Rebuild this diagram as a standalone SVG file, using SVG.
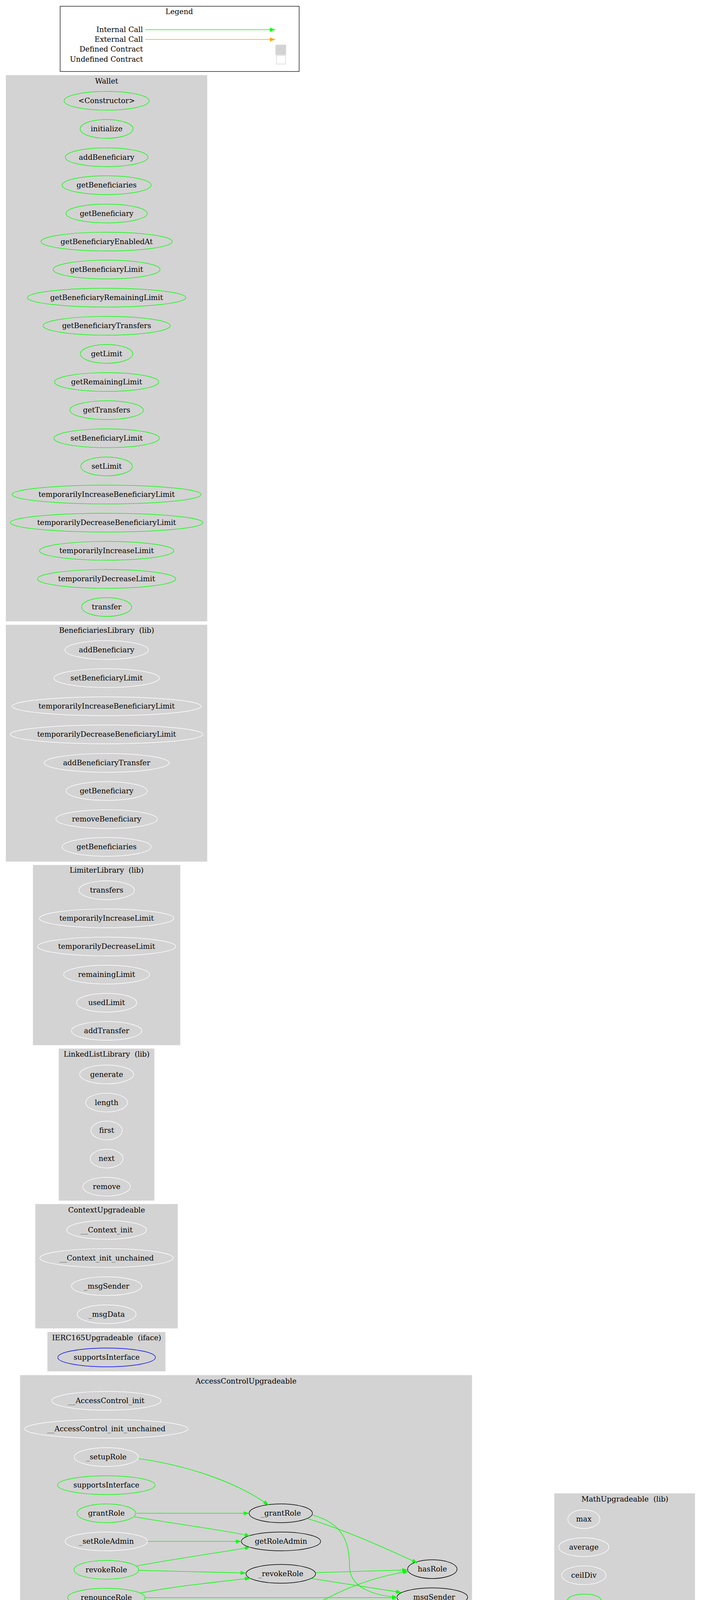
<svg xmlns="http://www.w3.org/2000/svg" width="1795" height="6413" viewBox="0 0 1795 6413">
<style>
text{font-family:"DejaVu Serif","Liberation Serif",serif;font-size:18.67px;text-anchor:middle;fill:#000;white-space:pre}
.cl{fill:#d3d3d3;stroke:#d3d3d3;stroke-width:1.3}
.n{fill:none;stroke-width:1.4}
.g{stroke:#00ff00}.w{stroke:#ffffff}.k{stroke:#000000}.b{stroke:#0000ff}.y{stroke:#ffff00}
.eg{fill:none;stroke:#00ff00;stroke-width:1.6;marker-end:url(#ag)}
.eo{fill:none;stroke:#ffa500;stroke-width:1.4;marker-end:url(#ao)}
</style>
<defs>
<marker id="ag" viewBox="0 0 14 10" refX="14" refY="5" markerWidth="14" markerHeight="10" markerUnits="userSpaceOnUse" orient="auto"><path d="M0,0 L14,5 L0,10 z" fill="#00ff00"/></marker>
<marker id="ao" viewBox="0 0 14 10" refX="14" refY="5" markerWidth="14" markerHeight="10" markerUnits="userSpaceOnUse" orient="auto"><path d="M0,0 L14,5 L0,10 z" fill="#ffa500"/></marker>
</defs>
<rect width="1795" height="6413" fill="#ffffff"/>
<g id="legend">
<rect x="154" y="16" width="612" height="167" fill="#fff" stroke="#000" stroke-width="1.3"/>
<text x="459" y="36">Legend</text>
<text x="366" y="82" style="text-anchor:end">Internal Call</text>
<text x="366" y="107" style="text-anchor:end">External Call</text>
<text x="366" y="132" style="text-anchor:end">Defined Contract</text>
<text x="366" y="158" style="text-anchor:end">Undefined Contract</text>
<path class="eg" d="M372,76 L705,76"/>
<path class="eo" d="M372,101 L705,101"/>
<rect x="706" y="115" width="26" height="25" fill="#d3d3d3" stroke="#d3d3d3"/>
<rect x="708" y="142" width="23" height="22" fill="#fff" stroke="#d3d3d3" stroke-width="1.3"/>
</g>
<g id="clusters">
<rect class="cl" x="15.6" y="193" width="514.4" height="1397"/><text x="273" y="214">Wallet</text>
<rect class="cl" x="15.6" y="1600" width="514.4" height="605"/><text x="273" y="1620">BeneficiariesLibrary  (lib)</text>
<rect class="cl" x="85" y="2215" width="376" height="460"/><text x="273" y="2234">LimiterLibrary  (lib)</text>
<rect class="cl" x="151" y="2685" width="243.6" height="388"/><text x="273" y="2705">LinkedListLibrary  (lib)</text>
<rect class="cl" x="91" y="3083" width="363.5" height="317"/><text x="273" y="3104">ContextUpgradeable</text>
<rect class="cl" x="122" y="3410.6" width="301" height="99.4"/><text x="273" y="3431">IERC165Upgradeable  (iface)</text>
<rect class="cl" x="52" y="3521" width="1156" height="676.7"/><text x="630" y="3542">AccessControlUpgradeable</text>
<rect class="cl" x="93.4" y="4207" width="358.6" height="389"/><text x="272.5" y="4228">IAccessControlUpgradeable  (iface)</text>
<rect class="cl" x="163.8" y="4606" width="217.7" height="461"/><text x="272.5" y="4627">IERC20  (iface)</text>
<rect class="cl" x="975" y="4207.6" width="265" height="316.4"/><text x="1107" y="4228">StringsUpgradeable  (lib)</text>
<rect class="cl" x="1420" y="3823.7" width="359" height="628.3"/><text x="1600" y="3844">MathUpgradeable  (lib)</text>
<rect class="cl" x="1340.6" y="4462.5" width="309.8" height="316.5"/><text x="1496" y="4483">SignedMathUpgradeable  (lib)</text>
<rect class="cl" x="172" y="5076.6" width="1413.6" height="387.1"/><text x="879" y="5098">AddressUpgradeable  (lib)</text>
<rect x="1007" y="5473.6" width="199.8" height="174.1" fill="#fff" stroke="#d3d3d3" stroke-width="1.5"/><text x="1107" y="5494">target</text>
<rect class="cl" x="947.4" y="5658" width="619.6" height="461"/><text x="1257.6" y="5679">Initializable</text>
<rect class="cl" x="922.4" y="6128.7" width="368.9" height="269"/><text x="1106.6" y="6150">ERC165Upgradeable</text>
</g>
<g id="Wallet">
<g id="w1"><ellipse class="n g" cx="273" cy="258" rx="109" ry="24"/><text x="273" y="264">&lt;Constructor&gt;</text></g>
<g id="w2"><ellipse class="n g" cx="273" cy="330" rx="67.7" ry="24"/><text x="273" y="336">initialize</text></g>
<g id="w3"><ellipse class="n g" cx="273" cy="402.5" rx="106" ry="24"/><text x="273" y="408.5">addBeneficiary</text></g>
<g id="w4"><ellipse class="n g" cx="273" cy="474" rx="114" ry="24"/><text x="273" y="480">getBeneficiaries</text></g>
<g id="w5"><ellipse class="n g" cx="273" cy="546.5" rx="104" ry="24"/><text x="273" y="552.5">getBeneficiary</text></g>
<g id="w6"><ellipse class="n g" cx="273" cy="618.5" rx="168" ry="24"/><text x="273" y="624.5">getBeneficiaryEnabledAt</text></g>
<g id="w7"><ellipse class="n g" cx="273" cy="690" rx="137" ry="24"/><text x="273" y="696">getBeneficiaryLimit</text></g>
<g id="w8"><ellipse class="n g" cx="273" cy="762" rx="203" ry="24"/><text x="273" y="768">getBeneficiaryRemainingLimit</text></g>
<g id="w9"><ellipse class="n g" cx="273" cy="834" rx="163" ry="24"/><text x="273" y="840">getBeneficiaryTransfers</text></g>
<g id="w10"><ellipse class="n g" cx="273" cy="906" rx="67" ry="24"/><text x="273" y="912">getLimit</text></g>
<g id="w11"><ellipse class="n g" cx="273" cy="978" rx="133.5" ry="24"/><text x="273" y="984">getRemainingLimit</text></g>
<g id="w12"><ellipse class="n g" cx="273" cy="1050" rx="94" ry="24"/><text x="273" y="1056">getTransfers</text></g>
<g id="w13"><ellipse class="n g" cx="273" cy="1122" rx="135" ry="24"/><text x="273" y="1128">setBeneficiaryLimit</text></g>
<g id="w14"><ellipse class="n g" cx="273" cy="1194" rx="66" ry="24"/><text x="273" y="1200">setLimit</text></g>
<g id="w15"><ellipse class="n g" cx="273" cy="1266" rx="242" ry="24"/><text x="273" y="1272">temporarilyIncreaseBeneficiaryLimit</text></g>
<g id="w16"><ellipse class="n g" cx="273" cy="1338" rx="246.5" ry="24"/><text x="273" y="1344">temporarilyDecreaseBeneficiaryLimit</text></g>
<g id="w17"><ellipse class="n g" cx="273" cy="1410" rx="172" ry="24"/><text x="273" y="1416">temporarilyIncreaseLimit</text></g>
<g id="w18"><ellipse class="n g" cx="273" cy="1482" rx="177" ry="24"/><text x="273" y="1488">temporarilyDecreaseLimit</text></g>
<g id="w19"><ellipse class="n g" cx="273" cy="1554" rx="64" ry="24"/><text x="273" y="1560">transfer</text></g>
</g>
<g id="BeneficiariesLibrary">
<g id="b1"><ellipse class="n w" cx="273" cy="1664" rx="106.7" ry="24"/><text x="273" y="1670">addBeneficiary</text></g>
<g id="b2"><ellipse class="n w" cx="273" cy="1736" rx="135" ry="24"/><text x="273" y="1742">setBeneficiaryLimit</text></g>
<g id="b3"><ellipse class="n w" cx="273" cy="1808" rx="242" ry="24"/><text x="273" y="1814">temporarilyIncreaseBeneficiaryLimit</text></g>
<g id="b4"><ellipse class="n w" cx="273" cy="1880" rx="246.5" ry="24"/><text x="273" y="1886">temporarilyDecreaseBeneficiaryLimit</text></g>
<g id="b5"><ellipse class="n w" cx="273" cy="1953" rx="160" ry="24"/><text x="273" y="1959">addBeneficiaryTransfer</text></g>
<g id="b6"><ellipse class="n w" cx="273" cy="2025" rx="104" ry="24"/><text x="273" y="2031">getBeneficiary</text></g>
<g id="b7"><ellipse class="n w" cx="273" cy="2097" rx="130" ry="24"/><text x="273" y="2103">removeBeneficiary</text></g>
<g id="b8"><ellipse class="n w" cx="273" cy="2168" rx="114" ry="24"/><text x="273" y="2174">getBeneficiaries</text></g>
</g>
<g id="LimiterLibrary">
<g id="l1"><ellipse class="n w" cx="273" cy="2279" rx="71" ry="24"/><text x="273" y="2285">transfers</text></g>
<g id="l2"><ellipse class="n w" cx="273" cy="2351" rx="172" ry="24"/><text x="273" y="2357">temporarilyIncreaseLimit</text></g>
<g id="l3"><ellipse class="n w" cx="273" cy="2423" rx="177" ry="24"/><text x="273" y="2429">temporarilyDecreaseLimit</text></g>
<g id="l4"><ellipse class="n w" cx="273" cy="2495" rx="110" ry="24"/><text x="273" y="2501">remainingLimit</text></g>
<g id="l5"><ellipse class="n w" cx="273" cy="2567" rx="77" ry="24"/><text x="273" y="2573">usedLimit</text></g>
<g id="l6"><ellipse class="n w" cx="273" cy="2639" rx="90" ry="24"/><text x="273" y="2645">addTransfer</text></g>
</g>
<g id="LinkedListLibrary">
<g id="ll1"><ellipse class="n w" cx="273" cy="2750.5" rx="69" ry="24"/><text x="273" y="2756.5">generate</text></g>
<g id="ll2"><ellipse class="n w" cx="273" cy="2822.6" rx="53.6" ry="24"/><text x="273" y="2828.6">length</text></g>
<g id="ll3"><ellipse class="n w" cx="273" cy="2894" rx="40" ry="24"/><text x="273" y="2900">first</text></g>
<g id="ll4"><ellipse class="n w" cx="273" cy="2966" rx="42" ry="24"/><text x="273" y="2972">next</text></g>
<g id="ll5"><ellipse class="n w" cx="273" cy="3038" rx="60.7" ry="24"/><text x="273" y="3044">remove</text></g>
</g>
<g id="ContextUpgradeable">
<g id="c1"><ellipse class="n w" cx="273" cy="3148.5" rx="102" ry="24"/><text x="273" y="3154.5">__Context_init</text></g>
<g id="c2"><ellipse class="n w" cx="273" cy="3220.5" rx="171" ry="24"/><text x="273" y="3226.5">__Context_init_unchained</text></g>
<g id="c3"><ellipse class="n w" cx="273" cy="3292.5" rx="90" ry="24"/><text x="273" y="3298.5">_msgSender</text></g>
<g id="c4"><ellipse class="n w" cx="273" cy="3364.5" rx="75.5" ry="24"/><text x="273" y="3370.5">_msgData</text></g>
</g>
<g id="IERC165Upgradeable">
<g id="i1"><ellipse class="n b" cx="273" cy="3475" rx="125" ry="24"/><text x="273" y="3481">supportsInterface</text></g>
</g>
<g id="AccessControlUpgradeable">
<g id="a1"><ellipse class="n w" cx="272.3" cy="3586" rx="140" ry="24"/><text x="272.3" y="3592">__AccessControl_init</text></g>
<g id="a2"><ellipse class="n w" cx="272.3" cy="3658" rx="209" ry="24"/><text x="272.3" y="3664">__AccessControl_init_unchained</text></g>
<g id="a3"><ellipse class="n w" cx="272.3" cy="3730" rx="82" ry="24"/><text x="272.3" y="3736">_setupRole</text></g>
<g id="a4"><ellipse class="n g" cx="272.3" cy="3802" rx="125" ry="24"/><text x="272.3" y="3808">supportsInterface</text></g>
<g id="a5"><ellipse class="n g" cx="272.3" cy="3874" rx="75" ry="24"/><text x="272.3" y="3880">grantRole</text></g>
<g id="a6"><ellipse class="n w" cx="272.3" cy="3946" rx="105.5" ry="24"/><text x="272.3" y="3952">_setRoleAdmin</text></g>
<g id="a7"><ellipse class="n g" cx="272.3" cy="4018.7" rx="83" ry="24"/><text x="272.3" y="4024.7">revokeRole</text></g>
<g id="a8"><ellipse class="n g" cx="272.3" cy="4090" rx="99" ry="24"/><text x="272.3" y="4096">renounceRole</text></g>
<g id="a9"><ellipse class="n y" cx="272.3" cy="4162" rx="68" ry="24"/><text x="272.3" y="4168">onlyRole</text></g>
<g id="a10"><ellipse class="n k" cx="719" cy="3874" rx="81" ry="24"/><text x="719" y="3880">_grantRole</text></g>
<g id="a11"><ellipse class="n k" cx="719.5" cy="3946" rx="101.5" ry="24"/><text x="719.5" y="3952">getRoleAdmin</text></g>
<g id="a12"><ellipse class="n k" cx="719" cy="4029" rx="89" ry="24"/><text x="719" y="4035">_revokeRole</text></g>
<g id="a13"><ellipse class="n k" cx="719" cy="4162" rx="82.5" ry="24"/><text x="719" y="4168">_checkRole</text></g>
<g id="a14"><ellipse class="n k" cx="1107" cy="4017" rx="63.3" ry="24"/><text x="1107" y="4023">hasRole</text></g>
<g id="a15"><ellipse class="n k" cx="1107" cy="4089" rx="90.5" ry="24"/><text x="1107" y="4095">_msgSender</text></g>
</g>
<g id="IAccessControlUpgradeable">
<g id="ia1"><ellipse class="n b" cx="272.5" cy="4272.7" rx="63" ry="24"/><text x="272.5" y="4278.7">hasRole</text></g>
<g id="ia2"><ellipse class="n b" cx="272.5" cy="4345" rx="101.4" ry="24"/><text x="272.5" y="4351">getRoleAdmin</text></g>
<g id="ia3"><ellipse class="n b" cx="272.5" cy="4417" rx="75" ry="24"/><text x="272.5" y="4423">grantRole</text></g>
<g id="ia4"><ellipse class="n b" cx="272.5" cy="4488.4" rx="83" ry="24"/><text x="272.5" y="4494.4">revokeRole</text></g>
<g id="ia5"><ellipse class="n b" cx="272.5" cy="4560.7" rx="99" ry="24"/><text x="272.5" y="4566.7">renounceRole</text></g>
</g>
<g id="IERC20">
<g id="e1"><ellipse class="n b" cx="272.5" cy="4671" rx="85.7" ry="24"/><text x="272.5" y="4677">totalSupply</text></g>
<g id="e2"><ellipse class="n b" cx="272.5" cy="4743" rx="76.7" ry="24"/><text x="272.5" y="4749">balanceOf</text></g>
<g id="e3"><ellipse class="n b" cx="272.5" cy="4815" rx="64" ry="24"/><text x="272.5" y="4821">transfer</text></g>
<g id="e4"><ellipse class="n b" cx="272.5" cy="4887.5" rx="75.6" ry="24"/><text x="272.5" y="4893.5">allowance</text></g>
<g id="e5"><ellipse class="n b" cx="272.5" cy="4959" rx="64.3" ry="24"/><text x="272.5" y="4965">approve</text></g>
<g id="e6"><ellipse class="n b" cx="272.5" cy="5031.7" rx="98" ry="24"/><text x="272.5" y="5037.7">transferFrom</text></g>
</g>
<g id="StringsUpgradeable">
<g id="s1"><ellipse class="n k" cx="1106" cy="4321" rx="90" ry="24"/><text x="1106" y="4327">toHexString</text></g>
<g id="s2"><ellipse class="n w" cx="1106" cy="4417" rx="65.5" ry="24"/><text x="1106" y="4423">toString</text></g>
<g id="s3"><ellipse class="n w" cx="1106" cy="4489" rx="48.5" ry="24"/><text x="1106" y="4495">equal</text></g>
</g>
<g id="MathUpgradeable">
<g id="m1"><ellipse class="n w" cx="1495" cy="3889" rx="41" ry="24"/><text x="1495" y="3895">max</text></g>
<g id="m2"><ellipse class="n w" cx="1495" cy="3960.7" rx="64.3" ry="24"/><text x="1495" y="3966.7">average</text></g>
<g id="m3"><ellipse class="n w" cx="1495" cy="4032.6" rx="56.7" ry="24"/><text x="1495" y="4038.6">ceilDiv</text></g>
<g id="m4"><ellipse class="n k" cx="1495" cy="4128.6" rx="59.4" ry="24"/><text x="1495" y="4134.6">mulDiv</text></g>
<g id="m5"><ellipse class="n w" cx="1495" cy="4225" rx="39.5" ry="24"/><text x="1495" y="4231">sqrt</text></g>
<g id="m6"><ellipse class="n k" cx="1495" cy="4321" rx="56.7" ry="24"/><text x="1495" y="4327">log256</text></g>
<g id="m7"><ellipse class="n k" cx="1495" cy="4417" rx="48.5" ry="24"/><text x="1495" y="4423">log10</text></g>
<g id="m8"><ellipse class="n k" cx="1727" cy="4189" rx="41" ry="24"/><text x="1727" y="4195">log2</text></g>
<g id="m9"><ellipse class="n k" cx="1727" cy="4261" rx="38.4" ry="24"/><text x="1727" y="4267">min</text></g>
</g>
<g id="SignedMathUpgradeable">
<g id="sm1"><ellipse class="n w" cx="1496" cy="4527.7" rx="40.7" ry="24"/><text x="1496" y="4533.7">max</text></g>
<g id="sm2"><ellipse class="n w" cx="1496" cy="4599.5" rx="38.2" ry="24"/><text x="1496" y="4605.5">min</text></g>
<g id="sm3"><ellipse class="n w" cx="1496" cy="4671" rx="64.4" ry="24"/><text x="1496" y="4677">average</text></g>
<g id="sm4"><ellipse class="n k" cx="1496" cy="4743.8" rx="35.8" ry="24"/><text x="1496" y="4749.8">abs</text></g>
</g>
<g id="AddressUpgradeable">
<g id="ad1"><ellipse class="n w" cx="272.4" cy="5237.5" rx="89" ry="24"/><text x="272.4" y="5243.5">functionCall</text></g>
<g id="ad2"><ellipse class="n w" cx="719" cy="5142.3" rx="77" ry="24"/><text x="719" y="5148.3">sendValue</text></g>
<g id="ad3"><ellipse class="n k" cx="719" cy="5237.5" rx="152.6" ry="24"/><text x="719" y="5243.5">functionCallWithValue</text></g>
<g id="ad4"><ellipse class="n k" cx="719" cy="5333.3" rx="126" ry="24"/><text x="719" y="5339.3">functionStaticCall</text></g>
<g id="ad5"><ellipse class="n k" cx="719" cy="5428.5" rx="145" ry="24"/><text x="719" y="5434.5">functionDelegateCall</text></g>
<g id="ad6"><ellipse class="n k" cx="1106.5" cy="5190" rx="63" ry="24"/><text x="1106.5" y="5196">address</text></g>
<g id="ad7"><ellipse class="n w" cx="1106.5" cy="5321" rx="113.5" ry="24"/><text x="1106.5" y="5327">verifyCallResult</text></g>
<g id="ad8"><ellipse class="n k" cx="1106.5" cy="5392.7" rx="187" ry="24"/><text x="1106.5" y="5398.7">verifyCallResultFromTarget</text></g>
<g id="ad9"><ellipse class="n k" cx="1495.6" cy="5326.4" rx="58.8" ry="24"/><text x="1495.6" y="5332.4">_revert</text></g>
<g id="ad10"><ellipse class="n k" cx="1495.6" cy="5404.7" rx="79" ry="24"/><text x="1495.6" y="5410.7">isContract</text></g>
</g>
<g id="target">
<g id="t1"><ellipse class="n k" cx="1106.5" cy="5538.3" rx="70.5" ry="24"/><text x="1106.5" y="5544.3">staticcall</text></g>
<g id="t2"><ellipse class="n k" cx="1106.6" cy="5612.7" rx="89" ry="24"/><text x="1106.6" y="5618.7">delegatecall</text></g>
</g>
<g id="Initializable">
<g id="in1"><ellipse class="n y" cx="1106.6" cy="5723.7" rx="73.7" ry="24"/><text x="1106.6" y="5729.7">initializer</text></g>
<g id="in2"><ellipse class="n y" cx="1106.6" cy="5795.7" rx="86.5" ry="24"/><text x="1106.6" y="5801.7">reinitializer</text></g>
<g id="in3"><ellipse class="n y" cx="1106.6" cy="5867.7" rx="106.6" ry="24"/><text x="1106.6" y="5873.7">onlyInitializing</text></g>
<g id="in4"><ellipse class="n w" cx="1106.6" cy="5939.7" rx="131" ry="24"/><text x="1106.6" y="5945.7">_disableInitializers</text></g>
<g id="in5"><ellipse class="n w" cx="1106.6" cy="6011.7" rx="148.5" ry="24"/><text x="1106.6" y="6017.7">_getInitializedVersion</text></g>
<g id="in6"><ellipse class="n w" cx="1106.6" cy="6083.7" rx="97" ry="24"/><text x="1106.6" y="6089.7">_isInitializing</text></g>
<g id="in7"><ellipse class="n k" cx="1493.7" cy="5723.3" rx="62.9" ry="24"/><text x="1493.7" y="5729.3">address</text></g>
<g id="in8"><ellipse class="n k" cx="1493.7" cy="5939.7" rx="41.6" ry="24"/><text x="1493.7" y="5945.7">type</text></g>
</g>
<g id="ERC165Upgradeable">
<g id="er1"><ellipse class="n w" cx="1106.6" cy="6194.7" rx="103" ry="24"/><text x="1106.6" y="6200.7">__ERC165_init</text></g>
<g id="er2"><ellipse class="n w" cx="1106.6" cy="6266.3" rx="173" ry="24"/><text x="1106.6" y="6272.3">__ERC165_init_unchained</text></g>
<g id="er3"><ellipse class="n g" cx="1106.6" cy="6362.7" rx="125" ry="24"/><text x="1106.6" y="6368.7">supportsInterface</text></g>
</g>
<g id="connectors">
<path class="eg" d="M355,3734 C470,3750 600,3790 688,3853"/>
<path class="eg" d="M349,3874 L638,3874"/>
<path class="eg" d="M344,3883 C440,3900 560,3915 641,3932"/>
<path class="eg" d="M378,3946 L618,3946"/>
<path class="eg" d="M349.5,4009 C450,3990 560,3975 641,3961"/>
<path class="eg" d="M355,4020 L630,4027"/>
<path class="eg" d="M360,4078 C450,4060 560,4050 641,4040"/>
<path class="eg" d="M371,4090 L1017.6,4090"/>
<path class="eg" d="M341,4162 L636,4162"/>
<path class="eg" d="M659,4146 C639,4124 680,4114 720,4114 C760,4114 800,4124 781,4146"/>
<path class="eg" d="M787.6,3887.7 C880,3915 990,3965 1069,4001"/>
<path class="eg" d="M800.6,3878.7 C880,3900 895,3950 895,4010 C895,4065 960,4085 1017.6,4089"/>
<path class="eg" d="M808,4026 L1043.7,4019"/>
<path class="eg" d="M797.6,4041 L1028,4076.7"/>
<path class="eg" d="M753.6,4140.7 C830,4090 930,4040 1046,4023"/>
<path class="eg" d="M788,4149 L1031,4104"/>
<path class="eo" d="M778.5,4179 L1064.8,4300.4"/>
<path class="eo" d="M759,4183 L1046,4304"/>
<path class="eg" d="M1044,4299 C1000,4260 1060,4249 1106,4249 C1160,4249 1205,4265 1160,4302"/>
<path class="eg" d="M1071,4298 C1060,4280 1080,4274 1106,4274 C1130,4274 1150,4280 1141,4298"/>
<path class="eg" d="M1052,4403 C1010,4380 1060,4370 1106,4370 C1150,4370 1200,4378 1161,4403"/>
<path class="eo" d="M1197,4321 L1439,4321"/>
<path class="eo" d="M1172.5,4417 L1446.8,4417"/>
<path class="eo" d="M1172,4413 C1290,4415 1330,4480 1324,4540 C1318,4600 1300,4650 1320,4690 C1340,4730 1390,4745 1459.7,4745.5"/>
<path class="eg" d="M1457.5,4110 C1440,4090 1470,4081 1496,4081 C1525,4081 1550,4090 1535,4109"/>
<path class="eg" d="M1462.7,4210 C1440,4188 1470,4178 1496,4178 C1525,4178 1545,4188 1528,4208"/>
<path class="eg" d="M1458.5,4303 C1440,4283 1470,4274 1496,4274 C1525,4274 1550,4283 1535,4302"/>
<path class="eg" d="M1457.5,4392 C1445,4376 1470,4370 1496,4370 C1522,4370 1545,4376 1534.6,4392"/>
<path class="eg" d="M1693,4173 C1675,4152 1700,4142 1727,4142 C1755,4142 1780,4152 1764.4,4170"/>
<path class="eg" d="M1535,4219 L1687,4195.5"/>
<path class="eg" d="M1535,4231 L1689.7,4255.8"/>
<path class="eg" d="M358.7,5230 C450,5228 500,5228 577.5,5229"/>
<path class="eg" d="M358.7,5244.8 C450,5247 500,5247 577.5,5246.8"/>
<path class="eg" d="M651,5216 C630,5195 670,5190 719,5190 C770,5190 800,5195 789,5216"/>
<path class="eg" d="M652.5,5312 C631,5291 670,5286 719,5286 C770,5286 800,5291 788,5312"/>
<path class="eg" d="M652.5,5407.6 C631,5386 670,5381 719,5381 C770,5381 800,5386 788,5407"/>
<path class="eg" d="M791,5151 L1046,5182.8"/>
<path class="eg" d="M840,5222.6 L1046,5197.4"/>
<path class="eg" d="M834.7,5253.4 C880,5275 893,5310 898,5335 C905,5355 930,5370 959.6,5377.8"/>
<path class="eg" d="M818,5348 L986.7,5373.8"/>
<path class="eg" d="M845,5417 L954,5407.6"/>
<path class="eg" d="M1221,5323 L1436.6,5325.7"/>
<path class="eg" d="M1219.8,5373.5 L1441,5335.3"/>
<path class="eg" d="M1289,5398.7 L1416.5,5402.3"/>
<path class="eo" d="M826,5345 C870,5370 895,5410 900,5440 C910,5490 990,5515 1044,5529"/>
<path class="eo" d="M744,5452 C790,5515 900,5585 1024,5603"/>
<path class="eo" d="M1168,5710 C1230,5685 1275,5665 1300,5645 C1370,5580 1440,5500 1479,5428"/>
<path class="eg" d="M1180,5723.7 L1431,5723.5"/>
<path class="eg" d="M1206,5923.7 C1290,5915 1400,5918 1456.8,5927"/>
<path class="eg" d="M1238,5939.7 L1452,5939.7"/>
<path class="eg" d="M1206,5955.7 C1290,5963 1400,5962 1457,5953"/>
<path class="eg" d="M1174.5,6341.7 C1320,6290 1440,6160 1483,5966"/>
<path class="eg" d="M1221.4,6352 C1340,6290 1450,6160 1487.5,5966"/>
<path class="eo" d="M1039,6341.7 C1020,6320 1060,6314 1106,6314 C1150,6314 1195,6320 1177,6341"/>
</g>
</svg>
